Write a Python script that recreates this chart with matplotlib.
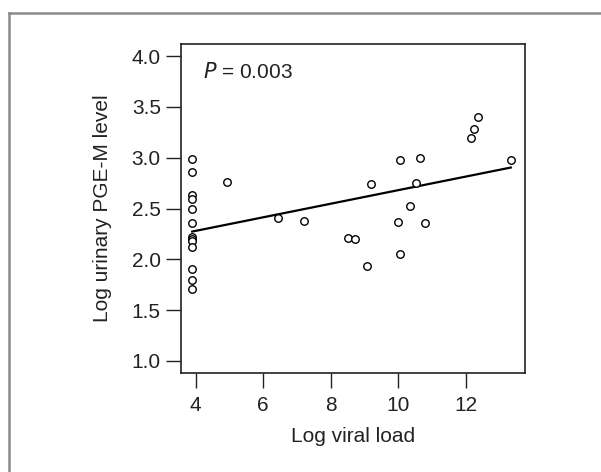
import numpy as np
import matplotlib.pyplot as plt
from matplotlib.lines import Line2D

plt.rcParams['font.family'] = ['Liberation Sans', 'DejaVu Sans']

#%% data
viral_load = [3.9] * 13 + [4.93, 6.43, 7.22, 8.50, 8.73, 9.07, 9.20, 9.99, 10.04,
                           10.04, 10.34, 10.52, 10.65, 10.79, 12.15, 12.24, 12.36, 13.33]
pge_m = [2.99, 2.86, 2.63, 2.59, 2.50, 2.36, 2.22, 2.20, 2.18, 2.12, 1.90, 1.80, 1.71,
         2.76, 2.41, 2.38, 2.21, 2.20, 1.93, 2.74, 2.37, 2.98, 2.05,
         2.52, 2.75, 3.00, 2.36, 3.19, 3.28, 3.40, 2.98]
x_ticks = [4, 6, 8, 10, 12]
y_ticks = [1.0, 1.5, 2.0, 2.5, 3.0, 3.5, 4.0]

x = np.array(viral_load)
y = np.array(pge_m)

#%% plot
fig = plt.figure(figsize=(6.01, 4.72), dpi=100)
ax = fig.add_axes([0.301, 0.2097, 0.5725, 0.6971])

ax.plot(x, y, 'o', mfc='white', mec='black', ms=5.4, mew=1.0, zorder=3)

slope, intercept = np.polyfit(x, y, 1)
xl = np.array([x.min(), x.max()])
ax.plot(xl, intercept + slope * xl, color='black', lw=1.6, zorder=2)

ax.set_xlim(3.565, 13.75)
ax.set_ylim(0.88, 4.12)
ax.set_xticks(x_ticks)
ax.set_yticks(y_ticks)
ax.set_yticklabels([f'{v:.1f}' for v in y_ticks])
ax.tick_params(direction='out', length=10.5, width=1.0, labelsize=15,
               colors='#222222')
ax.tick_params(axis='x', pad=6)
ax.tick_params(axis='y', pad=4)
for s in ax.spines.values():
    s.set_linewidth(1.2)
    s.set_color('#222222')

ax.set_xlabel('Log viral load', fontsize=15, color='#222222', labelpad=9)
ax.set_ylabel('Log urinary PGE-M level', fontsize=15, color='#222222', labelpad=14)

ax.text(0.064, 0.915, r'$\it{P}$ = 0.003', transform=ax.transAxes,
        fontsize=15, va='center', ha='left', color='#222222')

# grey frame, only top and left edges visible
fx = 9 / 601
fy = 1 - 13 / 472
fig.add_artist(Line2D([fx, fx], [0, fy], transform=fig.transFigure, color='#8a8a8a', lw=1.8))
fig.add_artist(Line2D([fx, 1], [fy, fy], transform=fig.transFigure, color='#8a8a8a', lw=1.8))

fig.savefig('out.png', dpi=100)
